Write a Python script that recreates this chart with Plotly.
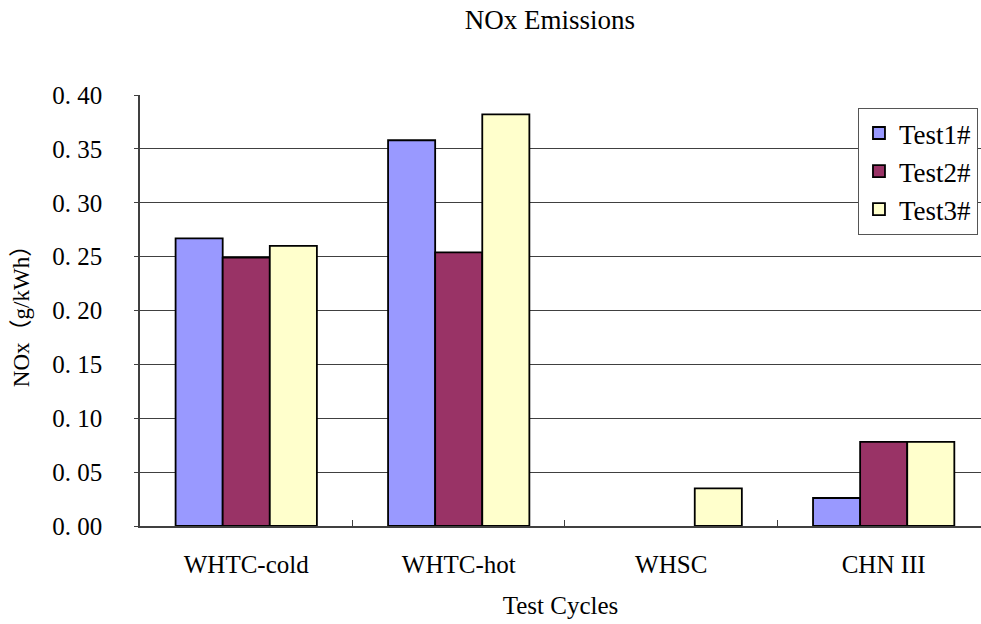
import plotly.graph_objects as go

categories = ["WHTC-cold", "WHTC-hot", "WHSC", "CHN III"]
test1 = [0.267, 0.358, 0.0, 0.026]
test2 = [0.249, 0.254, 0.0, 0.078]
test3 = [0.260, 0.382, 0.035, 0.078]
series_names = ["Test1#", "Test2#", "Test3#"]
colors = ["#9999FF", "#993366", "#FFFFCC"]
y_ticks = [0.0, 0.05, 0.10, 0.15, 0.20, 0.25, 0.30, 0.35, 0.40]
y_ticktext = ["0. 00", "0. 05", "0. 10", "0. 15", "0. 20", "0. 25", "0. 30", "0. 35", "0. 40"]

FONT = "Liberation Serif, Noto Sans CJK SC, serif"

fig = go.Figure()
for name, vals, c in zip(series_names, [test1, test2, test3], colors):
    fig.add_trace(go.Bar(
        x=categories, y=vals, name=name,
        marker=dict(color=c,
                    line=dict(color="#000000",
                              width=[1.8 if v > 0 else 0 for v in vals])),
    ))

fig.update_layout(
    width=981, height=624,
    margin=dict(l=140, r=0, t=95, b=98, autoexpand=False),
    paper_bgcolor="white", plot_bgcolor="white",
    barmode="group", bargap=0.335, bargroupgap=0,
    font=dict(family=FONT, color="#000000", size=24),
    title=dict(text="NOx Emissions", x=550/981, xanchor="center",
               y=1 - 20/624, yanchor="middle",
               font=dict(family=FONT, size=27, color="#000000")),
    showlegend=True,
    legend=dict(x=0.9964, xanchor="right", y=0.970, yanchor="top",
                bgcolor="white", bordercolor="#555555", borderwidth=1,
                font=dict(family=FONT, size=27, color="#000000"),
                itemwidth=30, tracegroupgap=5),
    xaxis=dict(
        type="category", range=[-0.5, 3.458], automargin=False,
        showline=True, linecolor="#404040", linewidth=1.5,
        ticks="inside", ticklen=6, tickcolor="#404040", tickson="boundaries",
        showgrid=False, ticklabelstandoff=15,
        tickfont=dict(family=FONT, size=25, color="#000000"),
        title=dict(text="Test Cycles", standoff=20,
                   font=dict(family=FONT, size=25, color="#000000")),
    ),
    yaxis=dict(
        range=[0, 0.4], tickvals=y_ticks, ticktext=y_ticktext, automargin=False,
        showline=True, linecolor="#404040", linewidth=1.5,
        ticks="outside", ticklen=4, tickcolor="#404040",
        showgrid=True, gridcolor="#404040", gridwidth=1,
        zeroline=False, ticklabelstandoff=27,
        tickfont=dict(family=FONT, size=25, color="#000000"),
        title=dict(text="NOx（g/kWh）", standoff=16,
                   font=dict(family=FONT, size=23, color="#000000")),
    ),
)

fig.write_html("out.html")
